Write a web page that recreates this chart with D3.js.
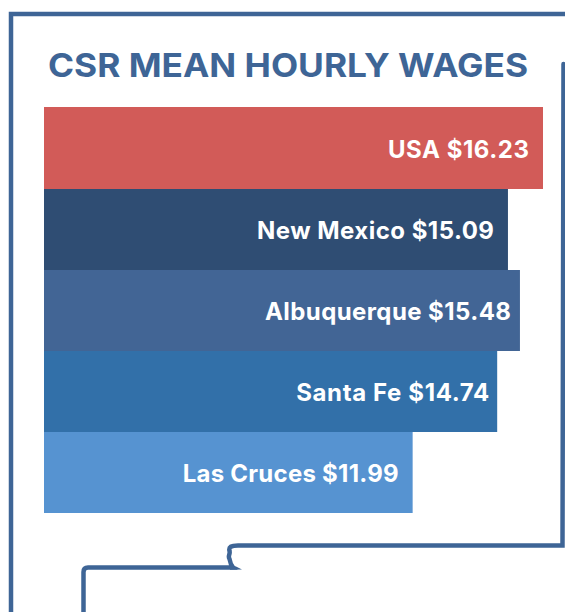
<!DOCTYPE html>
<html><head><meta charset="utf-8">
<script src="https://cdnjs.cloudflare.com/ajax/libs/d3/7.8.5/d3.min.js"></script>
<style>html,body{margin:0;padding:0;background:#fff;overflow:hidden}svg{display:block}</style>
</head><body><div id="chart"></div>
<script>
const categories = ["USA","New Mexico","Albuquerque","Santa Fe","Las Cruces"];
const wages = [16.23,15.09,15.48,14.74,11.99];
const barColors = ["#D25B58","#2F4D73","#426595","#3270A9","#5693D1"];
const labelInset = [14,14,9,8,14];
const labelWidth = [141,237,246,193,216];
const titleText = "CSR MEAN HOURLY WAGES";

const W=565,H=612, blue="#3E6596";
const svg=d3.select("#chart").append("svg").attr("width",W).attr("height",H);
const x=d3.scaleLinear().domain([0,16.23]).range([44,543]);
const y=d3.scaleBand().domain(categories).range([108,513]).padding(0);
const idx=new Map(categories.map((c,i)=>[c,i]));

// New Mexico state outline (decorative frame)
const frame=d3.path();
frame.moveTo(563.5,64);frame.lineTo(562.5,545.5);
frame.lineTo(238,545.5);
frame.bezierCurveTo(231,545.5,228.5,547,229.5,551);
frame.bezierCurveTo(230.5,554,227.5,556,229.5,559);
frame.bezierCurveTo(230,562,231,565,233,567.5);
frame.lineTo(88,567.5);
frame.quadraticCurveTo(83.5,567.5,83.5,572);
frame.lineTo(83.5,612);
svg.append("path").attr("d",frame.toString()).attr("fill","none").attr("stroke",blue).attr("stroke-width",4.5).attr("stroke-linecap","round");
const tail=d3.path();
tail.moveTo(230,565);tail.lineTo(236,566.5);tail.lineTo(242,569.5);tail.lineTo(230,569.8);tail.closePath();
svg.append("path").attr("d",tail.toString()).attr("fill",blue);
const frame2=d3.path();
frame2.moveTo(11,612);frame2.lineTo(11,14);frame2.lineTo(565,14);
svg.append("path").attr("d",frame2.toString()).attr("fill","none").attr("stroke",blue).attr("stroke-width",4.5);

svg.append("text").attr("x",48).attr("y",77).attr("fill",blue)
 .attr("font-family","Inter").attr("font-weight",700).attr("font-size",33)
 .attr("textLength",480).attr("lengthAdjust","spacingAndGlyphs").text(titleText);

svg.selectAll("rect.bar").data(categories).join("rect").attr("class","bar")
 .attr("x",x(0)).attr("y",(d,i)=>i===0?y(d)-1:y(d)).attr("height",(d,i)=>i===0?y.bandwidth()+1:y.bandwidth())
 .attr("width",d=>x(wages[idx.get(d)])-x(0)).attr("fill",d=>barColors[idx.get(d)]);

svg.selectAll("text.lab").data(categories).join("text").attr("class","lab")
 .attr("x",d=>x(wages[idx.get(d)])-labelInset[idx.get(d)]-labelWidth[idx.get(d)])
 .attr("y",d=>y(d)+y.bandwidth()/2+9.5).attr("fill","#fff")
 .attr("font-family","Inter").attr("font-weight",700).attr("font-size",24)
 .attr("textLength",d=>labelWidth[idx.get(d)]).attr("lengthAdjust","spacing")
 .text(d=>d+" $"+wages[idx.get(d)].toFixed(2));
</script></body></html>
